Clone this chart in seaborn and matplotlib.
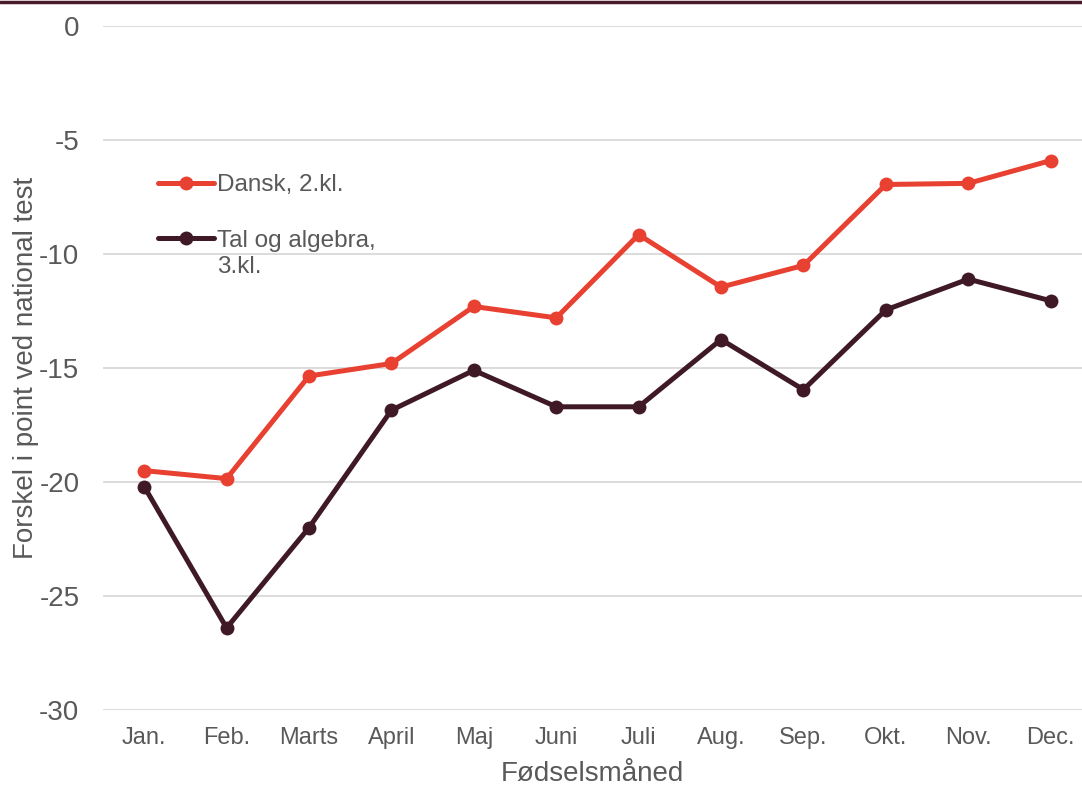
import matplotlib
matplotlib.use("Agg")
import matplotlib.pyplot as plt
import seaborn as sns
import pandas as pd
from matplotlib.lines import Line2D

months = ["Jan.", "Feb.", "Marts", "April", "Maj", "Juni", "Juli", "Aug.", "Sep.", "Okt.", "Nov.", "Dec."]
dansk = [-19.5, -19.85, -15.35, -14.8, -12.3, -12.8, -9.15, -11.45, -10.5, -6.95, -6.9, -5.9]
tal = [-20.2, -26.4, -22.0, -16.85, -15.1, -16.7, -16.7, -13.75, -15.95, -12.45, -11.1, -12.05]
series_names = ["Dansk, 2.kl.", "Tal og algebra,"]
series_extra = "3.kl."
colors = ["#E84031", "#3F1926"]
yticks = [0, -5, -10, -15, -20, -25, -30]

df = pd.DataFrame({
    "month": months * 2,
    "x": list(range(len(months))) * 2,
    "value": dansk + tal,
    "series": [series_names[0]] * len(months) + [series_names[1]] * len(months),
})

sns.set_theme(style="white")
plt.rcParams["font.family"] = ["Liberation Sans", "DejaVu Sans"]
grey = "#595959"

fig = plt.figure(figsize=(10.82, 7.89), dpi=100)
ax = fig.add_axes([0.0952, 0.1001, 0.9048, 0.8669])

sns.lineplot(data=df, x="x", y="value", hue="series", palette=colors,
             marker="o", markersize=10, markeredgewidth=0, linewidth=3.6,
             ax=ax, legend=True)

ax.set_xlim(-0.5, 11.38)
ax.set_ylim(-30, 0)
ax.set_yticks(yticks)
ax.set_yticklabels([str(v) for v in yticks])
ax.set_xticks(range(len(months)))
ax.set_xticklabels(months)
ax.grid(axis="y", color="#D9D9D9", linewidth=1.3)
ax.set_axisbelow(True)
for s in ax.spines.values():
    s.set_visible(False)
ax.tick_params(axis="both", length=0, colors=grey)
ax.tick_params(axis="y", labelsize=20, pad=17)
ax.tick_params(axis="x", labelsize=17, pad=12)
ax.set_xlabel("Fødselsmåned", fontsize=20, color=grey, labelpad=9)
ax.set_ylabel("Forskel i point ved national test", fontsize=20, color=grey, labelpad=0)

handles, labels = ax.get_legend_handles_labels()
leg = ax.legend(handles, labels, loc="upper left", bbox_to_anchor=(0.056, 0.783),
                frameon=False, fontsize=17.5, handlelength=2.3, handletextpad=0.15,
                labelspacing=1.37, labelcolor=grey, borderpad=0, borderaxespad=0)

fig.canvas.draw()
bb = leg.get_texts()[1].get_window_extent()
fig.text(bb.x0 / fig.bbox.width, (bb.y0 - 4) / fig.bbox.height, series_extra,
         fontsize=17.5, color=grey, ha="left", va="top")

fig.add_artist(Line2D([0, 1], [0.998, 0.998], transform=fig.transFigure,
                      color="#4A1A2A", linewidth=2.5))

fig.savefig("out.png", dpi=100)
